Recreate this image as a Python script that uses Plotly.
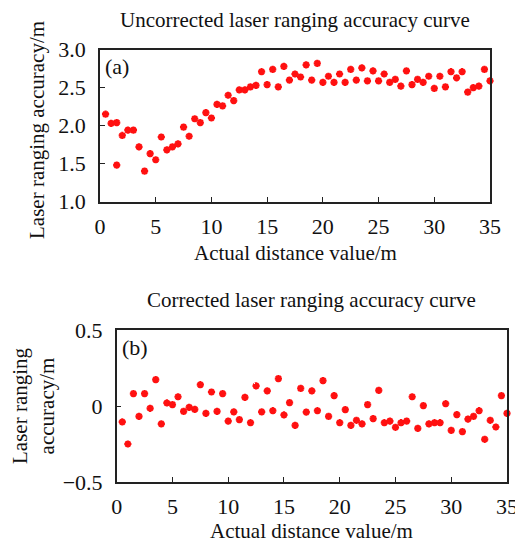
import plotly.graph_objects as go

# ---- data: uncorrected (a) ----
xa = [0.5, 1.0, 1.5, 1.5, 2.0, 2.5, 3.0, 3.5, 4.0, 4.5, 5.0, 5.5, 6.0, 6.5, 7.0, 7.5, 8.0, 8.5,
      9.0, 9.5, 10.0, 10.5, 11.0, 11.5, 12.0, 12.5, 13.0, 13.5, 14.0, 14.5, 15.0, 15.5, 16.0,
      16.5, 17.0, 17.5, 18.0, 18.5, 19.0, 19.5, 20.0, 20.5, 21.0, 21.5, 22.0, 22.5, 23.0, 23.5,
      24.0, 24.5, 25.0, 25.5, 26.0, 26.5, 27.0, 27.5, 28.0, 28.5, 29.0, 29.5, 30.0, 30.5, 31.0,
      31.5, 32.0, 32.5, 33.0, 33.5, 34.0, 34.5, 35.0]
ya = [2.15, 2.03, 2.04, 1.48, 1.87, 1.94, 1.94, 1.72, 1.40, 1.63, 1.55, 1.85, 1.68, 1.72, 1.76,
      1.98, 1.86, 2.09, 2.04, 2.17, 2.10, 2.28, 2.26, 2.40, 2.33, 2.47, 2.47, 2.51, 2.53, 2.71,
      2.54, 2.74, 2.51, 2.78, 2.60, 2.68, 2.64, 2.80, 2.60, 2.82, 2.57, 2.65, 2.57, 2.68, 2.57,
      2.74, 2.60, 2.76, 2.59, 2.72, 2.59, 2.68, 2.57, 2.61, 2.52, 2.72, 2.54, 2.61, 2.57, 2.65,
      2.49, 2.65, 2.51, 2.71, 2.63, 2.71, 2.44, 2.50, 2.52, 2.74, 2.59]

# ---- data: corrected (b) ----
xb = [i * 0.5 for i in range(1, 71)]
yb = [-0.105, -0.25, 0.081, -0.068, 0.081, -0.015, 0.173, -0.118, 0.020, 0.009, 0.061, -0.035,
      -0.009, -0.022, 0.140, -0.048, 0.092, -0.035, 0.081, -0.099, -0.039, -0.090, 0.057, -0.110,
      0.132, -0.039, 0.099, -0.031, 0.180, -0.059, 0.022, -0.127, 0.116, -0.040, 0.099, -0.031,
      0.167, -0.068, 0.068, -0.110, -0.024, -0.127, -0.094, -0.118, 0.009, -0.083, 0.103, -0.110,
      -0.099, -0.140, -0.110, -0.099, 0.061, -0.147, 0.002, -0.118, -0.110, -0.110, 0.015, -0.160,
      -0.057, -0.169, -0.086, -0.068, -0.031, -0.219, -0.094, -0.138, 0.068, -0.048]

xticks = [0, 5, 10, 15, 20, 25, 30, 35]
ya_ticks = [1.0, 1.5, 2.0, 2.5, 3.0]
ya_ticktext = ["1.0", "1.5", "2.0", "2.5", "3.0"]
yb_ticks = [-0.5, 0, 0.5]
yb_ticktext = ["\u22120.5", "0", "0.5"]

FONT = "Liberation Serif"
FS = 21
TFS = 22
W, H = 515, 546

marker = dict(symbol="asterisk-open", size=6, color="#ff1010",
              line=dict(color="#ff1010", width=2.2))

fig = go.Figure()
fig.add_trace(go.Scatter(x=xa, y=ya, mode="markers", marker=marker, xaxis="x", yaxis="y",
                         showlegend=False, cliponaxis=False))
fig.add_trace(go.Scatter(x=xb, y=yb, mode="markers", marker=marker, xaxis="x2", yaxis="y2",
                         showlegend=False, cliponaxis=False))

axcommon = dict(showline=True, linecolor="#222", linewidth=1.5, mirror=True, ticks="inside",
                ticklen=5, tickcolor="#222", tickwidth=1.2, showgrid=False, zeroline=False,
                automargin=False, ticklabeloverflow="allow",
                tickfont=dict(family=FONT, size=TFS, color="#111"))

fig.update_layout(
    width=W, height=H, margin=dict(l=0, r=0, t=0, b=0, autoexpand=False),
    paper_bgcolor="white", plot_bgcolor="white",
    font=dict(family=FONT, size=FS, color="#111"),
    xaxis=dict(domain=[100 / W, 490 / W], range=[0, 35], tickvals=xticks, anchor="y",
               ticklabelstandoff=4, **axcommon),
    yaxis=dict(domain=[1 - 201.5 / H, 1 - 49.7 / H], range=[1.0, 3.0], tickvals=ya_ticks,
               ticktext=ya_ticktext, anchor="x", ticklabelstandoff=8, **axcommon),
    xaxis2=dict(domain=[116.7 / W, 507 / W], range=[0, 35], tickvals=xticks, anchor="y2",
                ticklabelstandoff=4, **axcommon),
    yaxis2=dict(domain=[1 - 482 / H, 1 - 330 / H], range=[-0.5, 0.5], tickvals=yb_ticks,
                ticktext=yb_ticktext, anchor="x2", ticklabelstandoff=8, **axcommon),
)

def ann(text, x, y, angle=0, size=FS):
    fig.add_annotation(text=text, x=x / W, y=1 - y / H, xref="paper", yref="paper",
                       showarrow=False, xanchor="center", yanchor="middle", textangle=angle,
                       font=dict(family=FONT, size=size, color="#111"))

ann("Uncorrected laser ranging accuracy curve", 295, 20)
ann("Actual distance value/m", 295, 253)
ann("Laser ranging accuracy/m", 37, 130, angle=-90)
ann("(a)", 117, 66, size=TFS)

ann("Corrected laser ranging accuracy curve", 311, 300)
ann("Actual distance value/m", 311, 531)
ann("Laser ranging<br>accuracy/m", 33, 406, angle=-90)
ann("(b)", 135, 347, size=TFS)

fig.write_html("out.html", config={"displayModeBar": False},
               post_script="document.body.style.margin='0';document.body.style.overflow='hidden';")
